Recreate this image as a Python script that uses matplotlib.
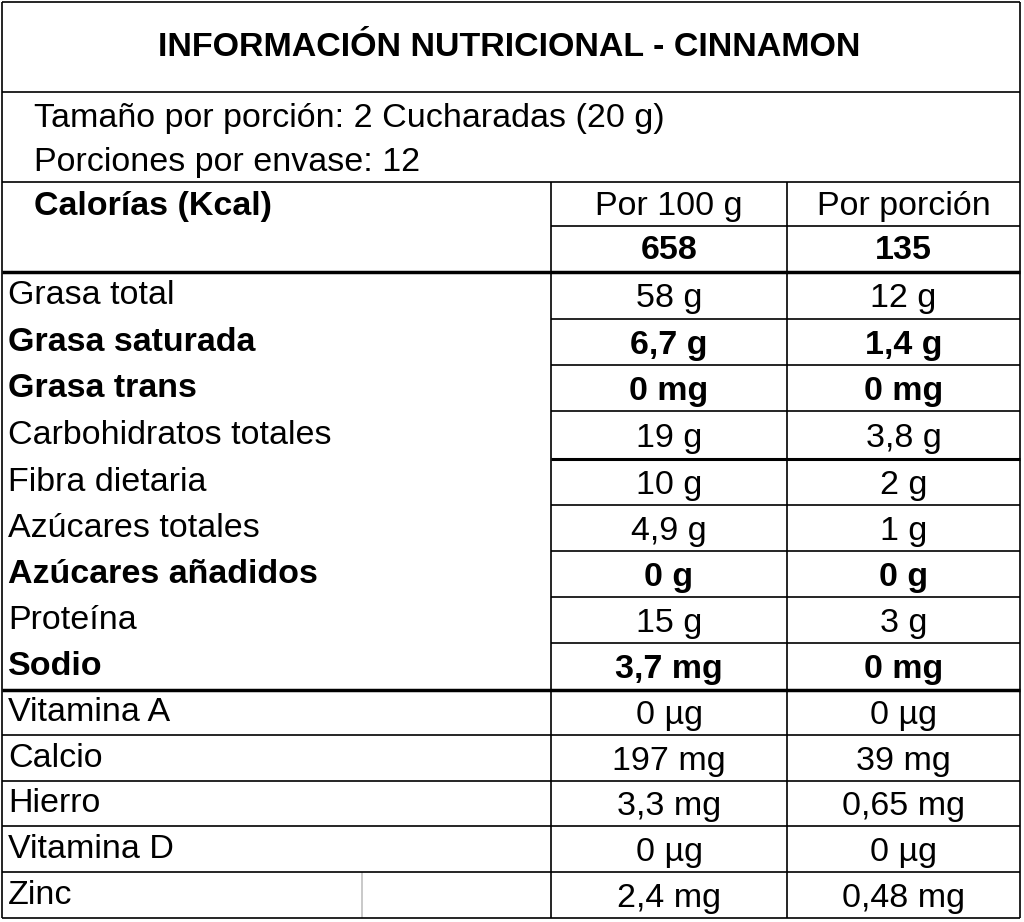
import matplotlib; matplotlib.use('Agg')
import matplotlib.pyplot as plt

titulo = "INFORMACIÓN NUTRICIONAL - CINNAMON"
porcion = ["Tamaño por porción: 2 Cucharadas (20 g)", "Porciones por envase: 12"]
calorias = ["658", "135"]
nutrientes = ["Grasa total", "Grasa saturada", "Grasa trans", "Carbohidratos totales",
              "Fibra dietaria", "Azúcares totales", "Azúcares añadidos", "Proteína", "Sodio",
              "Vitamina A", "Calcio", "Hierro", "Vitamina D", "Zinc"]
por_100g = ["58 g", "6,7 g", "0 mg", "19 g", "10 g", "4,9 g", "0 g", "15 g", "3,7 mg",
            "0 µg", "197 mg", "3,3 mg", "0 µg", "2,4 mg"]
por_porcion = ["12 g", "1,4 g", "0 mg", "3,8 g", "2 g", "1 g", "0 g", "3 g", "0 mg",
               "0 µg", "39 mg", "0,65 mg", "0 µg", "0,48 mg"]
negrita = [False, True, True, False, False, False, True, False, True,
           False, False, False, False, False]

plt.rcParams['font.family'] = 'Liberation Sans'
fig = plt.figure(figsize=(10.24, 9.22), dpi=100)
ax = fig.add_axes([0, 0, 1, 1])
ax.set_xlim(0, 1024)
ax.set_ylim(922, 0)
ax.axis('off')

L, R, T, B = 2, 1020, 2, 918
c1, c2 = 551, 787
k = 'black'
fs = 24.5

def h(y, x0=L, x1=R, lw=1.2):
    ax.plot([x0, x1], [y, y], color=k, lw=lw, solid_capstyle='butt')

def v(x, y0, y1, lw=1.2):
    ax.plot([x, x], [y0, y1], color=k, lw=lw, solid_capstyle='butt')

# outer border
h(T); h(B); v(L, T, B); v(R, T, B)
h(92)
ax.text(509, 47, titulo, ha='center', va='center', fontsize=24.5, weight='bold')
ax.text(34, 119, porcion[0], ha='left', va='center', fontsize=fs)
ax.text(34, 162, porcion[1], ha='left', va='center', fontsize=fs)

h(182)
v(c1, 182, B); v(c2, 182, B)
h(226, c1, R)
ax.text(34, 206, "Calorías (Kcal)", ha='left', va='center', fontsize=fs, weight='bold')
ax.text((c1 + c2) / 2, 206, "Por 100 g", ha='center', va='center', fontsize=fs)
ax.text((c2 + R) / 2, 206, "Por porción", ha='center', va='center', fontsize=fs)
ax.text((c1 + c2) / 2, 250, calorias[0], ha='center', va='center', fontsize=fs, weight='bold')
ax.text((c2 + R) / 2, 250, calorias[1], ha='center', va='center', fontsize=fs, weight='bold')
h(272, lw=2.5)

bordes = [272, 319, 365, 411, 459, 505, 551, 597, 643, 690, 735, 781, 826, 872, 918]
for i, nombre in enumerate(nutrientes):
    y0, y1 = bordes[i], bordes[i + 1]
    yc = (y0 + y1) / 2
    w = 'bold' if negrita[i] else 'normal'
    ax.text(8, yc, nombre, ha='left', va='center', fontsize=fs, weight=w)
    ax.text((c1 + c2) / 2, yc + 3, por_100g[i], ha='center', va='center', fontsize=fs, weight=w)
    ax.text((c2 + R) / 2, yc + 3, por_porcion[i], ha='center', va='center', fontsize=fs, weight=w)
    if i < len(nutrientes) - 1:
        if y1 == 690:
            h(y1, lw=2.5)
        elif y1 == 459:
            h(y1, c1, R, lw=2.2)
        elif y1 > 690:
            h(y1)
        else:
            h(y1, c1, R)
v(362, 872, B, lw=0.3)

fig.savefig("out.png", dpi=100)
